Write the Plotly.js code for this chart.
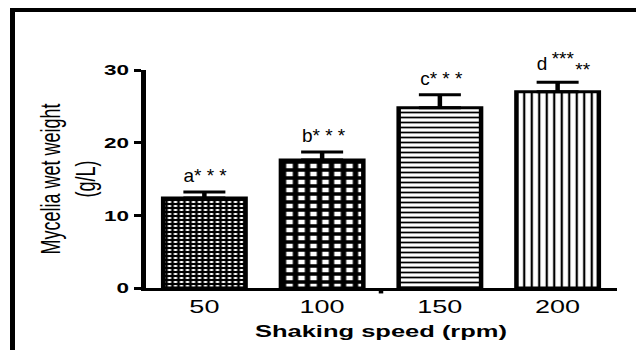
<!DOCTYPE html>
<html><head><meta charset="utf-8">
<script src="https://cdn.plot.ly/plotly-3.0.1.min.js"></script>
<style>
html,body{margin:0;padding:0;background:#fff;overflow:hidden;}
#wrap{position:relative;width:636px;height:350px;overflow:hidden;background:#fff;}
#chart{position:absolute;left:0;top:0;width:424px;height:350px;transform:scaleX(1.5);transform-origin:0 0;}
#frame{position:absolute;left:10px;top:8px;width:700px;height:400px;border-top:4px solid #000;border-left:5px solid #000;pointer-events:none;}
</style></head><body>
<div id="wrap"><div id="chart"></div><div id="frame"></div></div>
<script>
// Data
const categories = ['50', '100', '150', '200'];
const meanWeight = [12.4, 17.6, 24.8, 27.0];
const sdWeight = [0.8, 1.1, 1.8, 1.3];
const sigText = ['a* * *', 'b* * *', 'c* * *', 'd'];
const sigUpperStars = ['', '', '', '***'];
const sigLowerStars = ['', '', '', '**'];
const yTickValues = [0, 10, 20, 30];

const FONT = 'Liberation Sans, Arial, sans-serif';
const STRETCH = 1.5;

const trace = {
  type: 'bar',
  x: categories,
  y: meanWeight,
  width: 0.7,
  marker: {
    color: '#fff',
    line: {color: '#000', width: 3},
    pattern: {
      shape: ['+', '+', '-', '|'],
      size: [4, 8, 5, 5],
      solidity: [0.7, 0.7, 0.35, 0.3],
      fgcolor: '#000',
      bgcolor: '#fff',
      fgopacity: 1,
      fillmode: 'replace'
    }
  },
  error_y: {
    type: 'data',
    symmetric: false,
    array: sdWeight,
    arrayminus: sdWeight.map(() => 0),
    color: '#000',
    thickness: 3,
    width: 14
  },
  hoverinfo: 'skip'
};

const annFont = {family: FONT, size: 19, color: '#000'};
const annotations = [];
categories.forEach((c, i) => {
  const top = meanWeight[i] + sdWeight[i];
  const hasExtra = sigUpperStars[i] !== '';
  annotations.push({
    x: i, y: top, xref: 'x', yref: 'y', text: sigText[i], showarrow: false,
    yanchor: 'bottom', xanchor: 'center', yshift: hasExtra ? 6 : 4, xshift: hasExtra ? -10.5 : 1,
    font: annFont
  });
  if (hasExtra) {
    annotations.push({
      x: i, y: top, xref: 'x', yref: 'y', text: sigUpperStars[i], showarrow: false,
      yanchor: 'bottom', xanchor: 'center', yshift: 11.5, xshift: 4, font: annFont
    });
    annotations.push({
      x: i, y: top, xref: 'x', yref: 'y', text: sigLowerStars[i], showarrow: false,
      yanchor: 'bottom', xanchor: 'center', yshift: 0, xshift: 17, font: annFont
    });
  }
});

const layout = {
  width: 424,
  height: 350,
  margin: {l: 97, r: 13, t: 70, b: 62},
  paper_bgcolor: 'rgba(0,0,0,0)',
  plot_bgcolor: 'rgba(0,0,0,0)',
  showlegend: false,
  font: {family: FONT, color: '#000'},
  xaxis: {
    type: 'category',
    range: [-0.5, 3.5],
    showline: true,
    linecolor: '#000',
    linewidth: 3,
    ticks: '',
    showgrid: false,
    zeroline: false,
    tickfont: {family: FONT, size: 18, color: '#000'},
    title: {text: '<b>Shaking speed (rpm)</b>', font: {family: FONT, size: 17, color: '#000'}, standoff: 10}
  },
  yaxis: {
    range: [0, 30],
    tickvals: yTickValues,
    ticktext: yTickValues.map(v => '<b>' + v + '</b>'),
    showline: true,
    linecolor: '#000',
    linewidth: 3,
    ticks: 'outside',
    ticklen: 5,
    tickwidth: 3,
    tickcolor: '#000',
    showgrid: false,
    zeroline: false,
    tickfont: {family: FONT, size: 15, color: '#000'},
    title: {text: 'Mycelia wet weight<br>(g/L)', font: {family: FONT, size: 18, color: '#000'}, standoff: 1}
  },
  annotations: annotations,
  shapes: [{
    type: 'line', xref: 'x', yref: 'paper',
    x0: 1.5, x1: 1.5, y0: 0, y1: -0.025,
    line: {color: '#000', width: 3}
  }]
};

Plotly.newPlot('chart', [trace], layout, {displayModeBar: false}).then(() => {
  // significance labels in the original are not stretched horizontally: undo the page stretch for them
  document.querySelectorAll('#chart g.annotation text').forEach(t => {
    const b = t.getBBox();
    const cx = b.x + b.width / 2;
    t.setAttribute('transform', 'translate(' + cx + ',0) scale(' + (1 / STRETCH) + ',1) translate(' + (-cx) + ',0)');
  });
});
</script>
</body></html>
